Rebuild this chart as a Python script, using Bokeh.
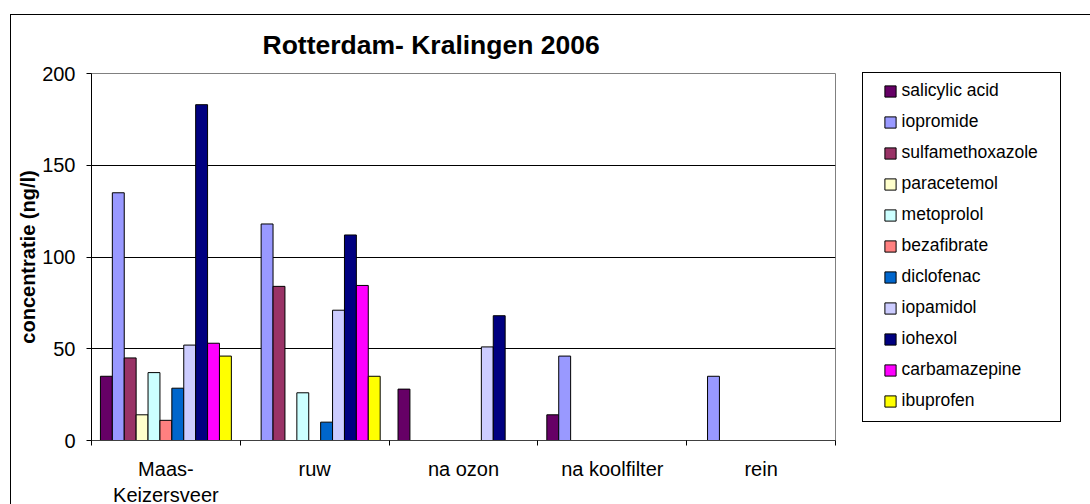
import numpy as np
from bokeh.plotting import figure
from bokeh.models import (ColumnDataSource, FixedTicker, Legend, LegendItem, Range1d)
from bokeh.transform import dodge
from bokeh.embed import file_html
from bokeh.resources import INLINE

nan = float("nan")

# ---- data -------------------------------------------------------------
categories = ["Maas-\nKeizersveer", "ruw", "na ozon", "na koolfilter", "rein"]

series_names = ["salicylic acid", "iopromide", "sulfamethoxazole", "paracetemol",
                "metoprolol", "bezafibrate", "diclofenac", "iopamidol",
                "iohexol", "carbamazepine", "ibuprofen"]

salicylic_acid   = [35,   nan, 28,  14,  nan]
iopromide        = [135,  118, nan, 46,  35]
sulfamethoxazole = [45,   84,  nan, nan, nan]
paracetemol      = [14,   nan, nan, nan, nan]
metoprolol       = [37,   26,  nan, nan, nan]
bezafibrate      = [11,   nan, nan, nan, nan]
diclofenac       = [28.5, 10,  nan, nan, nan]
iopamidol        = [52,   71,  51,  nan, nan]
iohexol          = [183,  112, 68,  nan, nan]
carbamazepine    = [53,   84.5, nan, nan, nan]
ibuprofen        = [46,   35,  nan, nan, nan]

series_values = [salicylic_acid, iopromide, sulfamethoxazole, paracetemol,
                 metoprolol, bezafibrate, diclofenac, iopamidol, iohexol,
                 carbamazepine, ibuprofen]

colors = ["#660066", "#9999FF", "#993366", "#FFFFCC", "#CCFFFF", "#FF8080",
          "#0066CC", "#CCCCFF", "#000080", "#FF00FF", "#FFFF00"]

y_ticks = [0, 50, 100, 150, 200]

# ---- figure -----------------------------------------------------------
FONT = "Liberation Sans"
n_cat = len(categories)
x_center = [i + 0.5 for i in range(n_cat)]

data = {"x": x_center}
for j, vals in enumerate(series_values):
    data["s%d" % j] = np.array(vals, dtype=float)
source = ColumnDataSource(data)

def css_line(x, y, w, h):
    return "linear-gradient(#000, #000) %dpx %dpx / %dpx %dpx no-repeat" % (x, y, w, h)

# chart-area border (left + top) and legend frame, drawn behind the transparent canvas
background_css = ", ".join([
    css_line(10, 14, 1, 2000), css_line(10, 14, 2000, 1),
    css_line(862, 72, 199, 1), css_line(862, 421, 199, 1),
    css_line(862, 72, 1, 350), css_line(1060, 72, 1, 350),
    "#fff",
])

p = figure(frame_width=744, frame_height=367,
           x_range=Range1d(0, n_cat), y_range=Range1d(0, 200),
           output_backend="svg", toolbar_location=None,
           min_border_left=91, min_border_right=255,
           min_border_top=73, min_border_bottom=64,
           styles={"background": background_css})

bw = 0.08
n_ser = len(series_names)
items = []
for j, (name, col) in enumerate(zip(series_names, colors)):
    off = (j - (n_ser - 1) / 2) * bw
    r = p.vbar(x=dodge("x", off), top="s%d" % j, width=bw, source=source,
               fill_color=col, line_color="black", line_width=1)
    items.append(LegendItem(label=name, renderers=[r]))

# title
p.title.text = "Rotterdam- Kralingen 2006"
p.title.text_font = FONT
p.title.text_font_size = "26.5px"
p.title.text_font_style = "bold"
p.title.text_color = "black"
p.title.align = "left"
p.title.offset = 171
p.title.standoff = 27

# frame & grid
p.outline_line_color = "#808080"
p.background_fill_color = "white"
p.border_fill_color = None
p.xgrid.visible = False
p.ygrid.grid_line_color = "black"
p.ygrid.grid_line_width = 1

# y axis
yax = p.yaxis[0]
yax.ticker = FixedTicker(ticks=y_ticks)
yax.major_tick_out = 5
yax.major_tick_in = 0
yax.minor_tick_line_color = None
yax.axis_line_color = "black"
yax.major_tick_line_color = "black"
yax.major_label_text_font = FONT
yax.major_label_text_font_size = "20px"
yax.major_label_text_color = "black"
yax.major_label_standoff = 11
yax.axis_label = "concentratie (ng/l)"
yax.axis_label_text_font = FONT
yax.axis_label_text_font_size = "20px"
yax.axis_label_text_font_style = "bold"
yax.axis_label_text_color = "black"
yax.axis_label_standoff = 0

# x axis
xax = p.xaxis[0]
xax.ticker = FixedTicker(ticks=x_center, minor_ticks=list(range(n_cat + 1)))
xax.major_tick_line_color = None
xax.major_tick_out = 0
xax.major_tick_in = 0
xax.minor_tick_out = 5
xax.minor_tick_in = 0
xax.minor_tick_line_color = "black"
xax.axis_line_color = "#404040"
xax.major_label_overrides = {x: lab for x, lab in zip(x_center, categories)}
xax.major_label_text_font = FONT
xax.major_label_text_font_size = "20px"
xax.major_label_text_color = "black"
xax.major_label_text_line_height = 1.2
xax.major_label_standoff = 12

# legend
legend = Legend(items=items, location=(47.6, 24),
                label_text_font=FONT, label_text_font_size="17.5px",
                label_text_color="black",
                glyph_width=14, glyph_height=14, label_height=31,
                label_standoff=5, spacing=0, padding=0, margin=0,
                border_line_alpha=0, background_fill_alpha=0)
p.add_layout(legend, "right")

open("out.html", "w").write(file_html(p, INLINE))
